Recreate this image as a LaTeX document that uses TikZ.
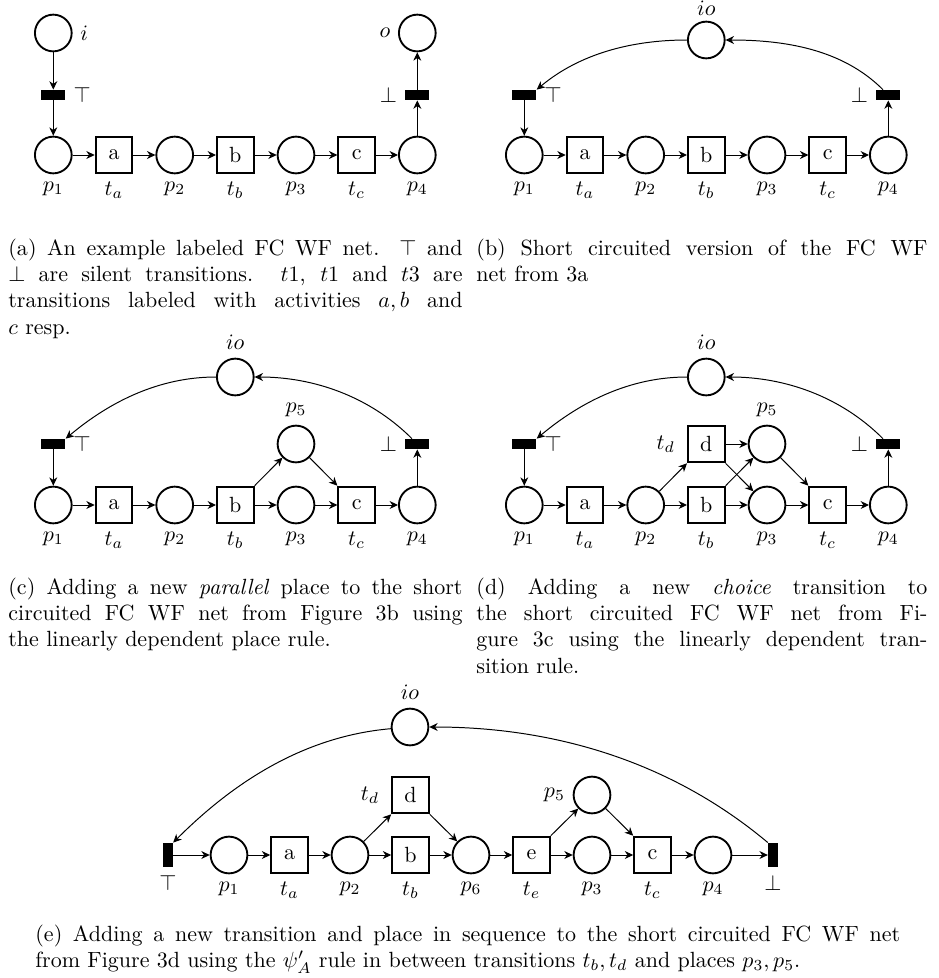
\documentclass[tikz,border=0pt]{standalone}
\usetikzlibrary{arrows.meta}
\begin{document}
\begin{tikzpicture}[x=0.4545pt,y=-0.4545pt,
  place/.style={circle,draw,line width=0.85pt,minimum size=16.7pt,inner sep=0pt},
  trans/.style={rectangle,draw,line width=0.85pt,minimum size=16.7pt,inner sep=0pt},
  silent/.style={fill=black,minimum width=10.9pt,minimum height=4.5pt,inner sep=0pt},
  vsilent/.style={fill=black,minimum width=4.3pt,minimum height=10.9pt,inner sep=0pt},
  flow/.style={-{Stealth[length=3.8pt,width=3.6pt,inset=1.2pt]},line width=0.45pt},
  lb/.style={label={below:#1}},
  captext/.style={anchor=base west,inner sep=0pt}]
\useasboundingbox (0,0) rectangle (938,978);

% ---------- (a) labeled FC WF net ----------
\node[place,label={right:$i$}] (ai) at (53.3,33) {};
\node[place,label={left:$o$}] (ao) at (417.3,33) {};
\node[silent,label={right:$\top$}] (atop) at (53.3,95) {};
\node[silent,label={left:$\bot$}] (abot) at (417.3,95) {};
\node[place,lb={$p_1$}] (ap1) at (53.3,155) {};
\node[trans,lb={$t_a$}] (ata) at (114,155) {a};
\node[place,lb={$p_2$}] (ap2) at (174.7,155) {};
\node[trans,lb={$t_b$}] (atb) at (235.3,155) {b};
\node[place,lb={$p_3$}] (ap3) at (296,155) {};
\node[trans,lb={$t_c$}] (atc) at (356.7,155) {c};
\node[place,lb={$p_4$}] (ap4) at (417.3,155) {};
\draw[flow] (ai) -- (atop);
\draw[flow] (atop) -- (ap1);
\draw[flow] (ap1) -- (ata);
\draw[flow] (ata) -- (ap2);
\draw[flow] (ap2) -- (atb);
\draw[flow] (atb) -- (ap3);
\draw[flow] (ap3) -- (atc);
\draw[flow] (atc) -- (ap4);
\draw[flow] (ap4) -- (abot);
\draw[flow] (abot) -- (ao);
\node[captext] (capa) at (8,255) {\parbox[t]{206.4pt}{(a) An example labeled FC WF net. $\top$ and\linebreak
  $\bot$ are silent transitions. $t1$, $t1$ and $t3$ are\linebreak
  transitions labeled with activities $a, b$ and\linebreak $c$ resp.}};

% ---------- (b) short circuited net ----------
\begin{scope}[shift={(471,0)}]
\node[place,label={[label distance=-1.2pt]above:$io$}] (bio) at (235.3,40) {};
\node[silent,label={right:$\top$}] (btop) at (53.3,95) {};
\node[silent,label={left:$\bot$}] (bbot) at (417.3,95) {};
\node[place,lb={$p_1$}] (bp1) at (53.3,155) {};
\node[trans,lb={$t_a$}] (bta) at (114,155) {a};
\node[place,lb={$p_2$}] (bp2) at (174.7,155) {};
\node[trans,lb={$t_b$}] (btb) at (235.3,155) {b};
\node[place,lb={$p_3$}] (bp3) at (296,155) {};
\node[trans,lb={$t_c$}] (btc) at (356.7,155) {c};
\node[place,lb={$p_4$}] (bp4) at (417.3,155) {};
\end{scope}
\draw[flow] (bbot) to[out=135,in=0,looseness=0.9] (bio);
\draw[flow] (bio) to[out=180,in=40,looseness=0.9] (btop.north east);
\draw[flow] (btop) -- (bp1);
\draw[flow] (bp1) -- (bta);
\draw[flow] (bta) -- (bp2);
\draw[flow] (bp2) -- (btb);
\draw[flow] (btb) -- (bp3);
\draw[flow] (bp3) -- (btc);
\draw[flow] (btc) -- (bp4);
\draw[flow] (bp4) -- (bbot);
\node[captext] (capb) at (476,255) {\parbox[t]{205pt}{(b) Short circuited version of the FC WF\linebreak net from 3a}};

% ---------- (c) parallel place ----------
\begin{scope}[shift={(0,350)}]
\node[place,label={above:$io$}] (cio) at (235.3,27) {};
\node[silent,label={right:$\top$}] (ctop) at (53.3,94) {};
\node[silent,label={left:$\bot$}] (cbot) at (417.3,94) {};
\node[place,label={above:$p_5$}] (cp5) at (296,94) {};
\node[place,lb={$p_1$}] (cp1) at (53.3,155) {};
\node[trans,lb={$t_a$}] (cta) at (114,155) {a};
\node[place,lb={$p_2$}] (cp2) at (174.7,155) {};
\node[trans,lb={$t_b$}] (ctb) at (235.3,155) {b};
\node[place,lb={$p_3$}] (cp3) at (296,155) {};
\node[trans,lb={$t_c$}] (ctc) at (356.7,155) {c};
\node[place,lb={$p_4$}] (cp4) at (417.3,155) {};
\end{scope}
\draw[flow] (cbot) to[out=135,in=0,looseness=0.9] (cio);
\draw[flow] (cio) to[out=180,in=40,looseness=0.9] (ctop.north east);
\draw[flow] (ctop) -- (cp1);
\draw[flow] (cp1) -- (cta);
\draw[flow] (cta) -- (cp2);
\draw[flow] (cp2) -- (ctb);
\draw[flow] (ctb) -- (cp3);
\draw[flow] (cp3) -- (ctc);
\draw[flow] (ctc) -- (cp4);
\draw[flow] (cp4) -- (cbot);
\draw[flow] (ctb.north east) -- (cp5);
\draw[flow] (cp5) -- (ctc.north west);
\node[captext] (capc) at (8,594) {\parbox[t]{206.4pt}{(c) Adding a new \emph{parallel} place to the short\linebreak
  circuited FC WF net from Figure 3b using\linebreak the linearly dependent place rule.}};

% ---------- (d) choice transition ----------
\begin{scope}[shift={(471,350)}]
\node[place,label={above:$io$}] (dio) at (235.3,27) {};
\node[silent,label={right:$\top$}] (dtop) at (53.3,94) {};
\node[silent,label={left:$\bot$}] (dbot) at (417.3,94) {};
\node[trans,label={[label distance=2pt]left:$t_d$}] (dtd) at (235.3,94) {d};
\node[place,label={above:$p_5$}] (dp5) at (296,94) {};
\node[place,lb={$p_1$}] (dp1) at (53.3,155) {};
\node[trans,lb={$t_a$}] (dta) at (114,155) {a};
\node[place,lb={$p_2$}] (dp2) at (174.7,155) {};
\node[trans,lb={$t_b$}] (dtb) at (235.3,155) {b};
\node[place,lb={$p_3$}] (dp3) at (296,155) {};
\node[trans,lb={$t_c$}] (dtc) at (356.7,155) {c};
\node[place,lb={$p_4$}] (dp4) at (417.3,155) {};
\end{scope}
\draw[flow] (dbot) to[out=135,in=0,looseness=0.9] (dio);
\draw[flow] (dio) to[out=180,in=40,looseness=0.9] (dtop.north east);
\draw[flow] (dtop) -- (dp1);
\draw[flow] (dp1) -- (dta);
\draw[flow] (dta) -- (dp2);
\draw[flow] (dp2) -- (dtb);
\draw[flow] (dtb) -- (dp3);
\draw[flow] (dp3) -- (dtc);
\draw[flow] (dtc) -- (dp4);
\draw[flow] (dp4) -- (dbot);
\draw[flow] (dp2) -- (dtd.south west);
\draw[flow] (dtd) -- (dp5);
\draw[flow] (dtd.south east) -- (dp3);
\draw[flow] (dtb.north east) -- (dp5);
\draw[flow] (dp5) -- (dtc.north west);
\node[captext] (capd) at (476,594) {\parbox[t]{205pt}{(d) Adding a new \emph{choice} transition to\linebreak
  the short circuited FC WF net from Fi-\linebreak gure 3c using the linearly dependent tran-\linebreak sition rule.}};

% ---------- (e) sequence rule ----------
\node[place,label={above:$io$}] (eio) at (410,727) {};
\node[vsilent,lb={$\top$}] (etop) at (168,855) {};
\node[place,lb={$p_1$}] (ep1) at (229,855) {};
\node[trans,lb={$t_a$}] (eta) at (289.5,855) {a};
\node[place,lb={$p_2$}] (ep2) at (350,855) {};
\node[trans,lb={$t_b$}] (etb) at (410.5,855) {b};
\node[trans,label={[label distance=2pt]left:$t_d$}] (etd) at (410.5,795) {d};
\node[place,lb={$p_6$}] (ep6) at (471,855) {};
\node[trans,lb={$t_e$}] (ete) at (531.5,855) {e};
\node[place,lb={$p_3$}] (ep3) at (592,855) {};
\node[place,label={left:$p_5$}] (ep5) at (592,795) {};
\node[trans,lb={$t_c$}] (etc) at (652.5,855) {c};
\node[place,lb={$p_4$}] (ep4) at (713,855) {};
\node[vsilent,lb={$\bot$}] (ebot) at (773,855) {};
\draw[flow] (ebot.north west) to[out=140,in=0,looseness=0.9] (eio);
\draw[flow] (eio) to[out=185,in=45,looseness=0.9] (etop.north east);
\draw[flow] (etop) -- (ep1);
\draw[flow] (ep1) -- (eta);
\draw[flow] (eta) -- (ep2);
\draw[flow] (ep2) -- (etb);
\draw[flow] (etb) -- (ep6);
\draw[flow] (ep6) -- (ete);
\draw[flow] (ete) -- (ep3);
\draw[flow] (ep3) -- (etc);
\draw[flow] (etc) -- (ep4);
\draw[flow] (ep4) -- (ebot);
\draw[flow] (ep2) -- (etd.south west);
\draw[flow] (etd.south east) -- (ep6);
\draw[flow] (ete.north east) -- (ep5);
\draw[flow] (ep5) -- (etc.north west);
\node[captext] (cape) at (35,941) {\parbox[t]{393pt}{(e) Adding a new transition and place in sequence to the short circuited FC WF net\linebreak
  from Figure 3d using the $\psi'_A$ rule in between transitions $t_b, t_d$ and places $p_3, p_5$.}};
\end{tikzpicture}
\end{document}
